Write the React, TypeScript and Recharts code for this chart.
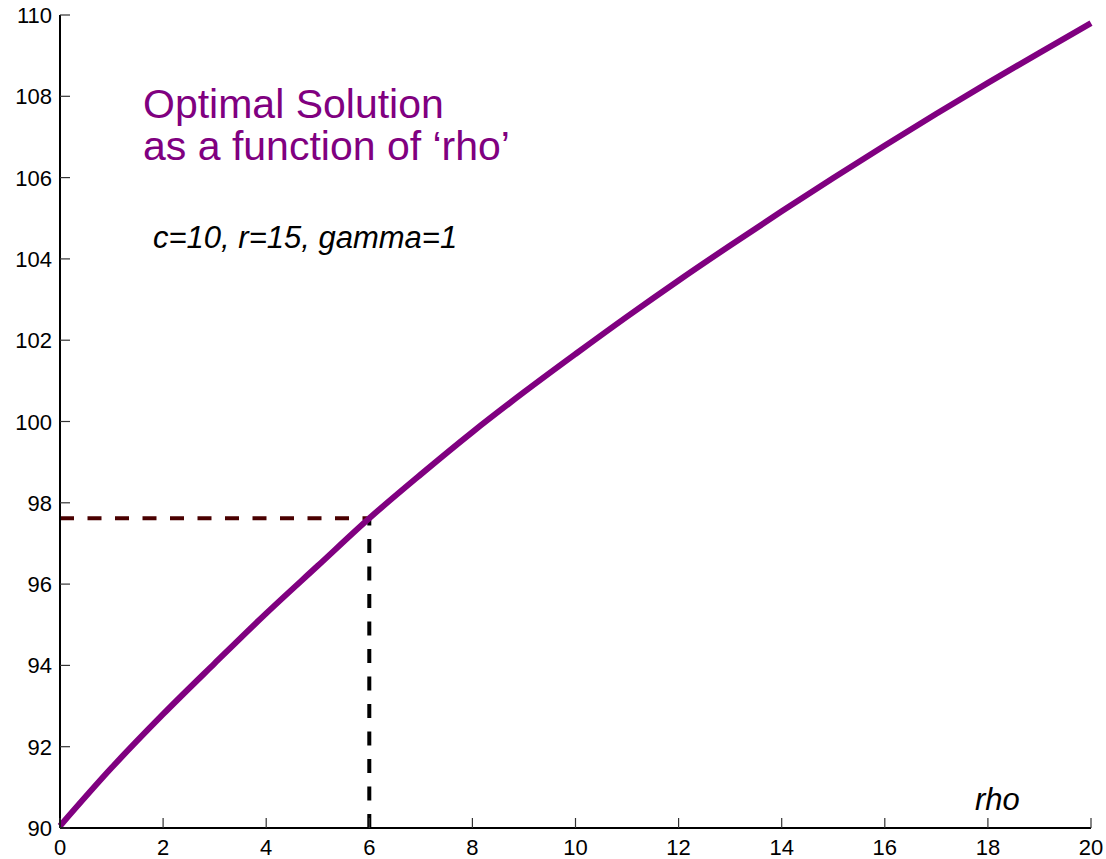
import { LineChart, Line, XAxis, YAxis, ReferenceLine } from "recharts"

// optimal solution sampled at integer rho (c=10, r=15, gamma=1)
const rhoValues = [0, 1, 2, 3, 4, 5, 6, 7, 8, 9, 10, 11, 12, 13, 14, 15, 16, 17, 18, 19, 20]
const optimalValues = [
  90.05, 91.48, 92.8, 94.05, 95.28, 96.45, 97.62, 98.7, 99.74, 100.72, 101.66,
  102.58, 103.47, 104.33, 105.17, 105.99, 106.79, 107.57, 108.33, 109.07, 109.8,
]
const xTicks = [0, 2, 4, 6, 8, 10, 12, 14, 16, 18, 20]
const yTicks = [90, 92, 94, 96, 98, 100, 102, 104, 106, 108, 110]
const markRho = 6
const markValue = 97.62

const data = rhoValues.map((rho, i) => ({ rho, value: optimalValues[i] }))

const FONT = '"Liberation Sans", Arial, Helvetica, sans-serif'
const TICK_LEN = 10
const TICK_COLOR = "#333"
const TICK_FONT = 22

function BottomTick({ x, y, payload }: any) {
  return (
    <g>
      <line x1={x} y1={y} x2={x} y2={y - TICK_LEN} stroke={TICK_COLOR} strokeWidth={1.2} />
      <text x={x} y={y + 27} textAnchor="middle" fontSize={TICK_FONT} fontFamily={FONT} fill="#000">
        {payload.value}
      </text>
    </g>
  )
}

function TopTick({ x, y }: any) {
  return <line x1={x} y1={y} x2={x} y2={y + TICK_LEN} stroke={TICK_COLOR} strokeWidth={1.2} />
}

function LeftTick({ x, y, payload }: any) {
  return (
    <g>
      <line x1={x} y1={y} x2={x + TICK_LEN} y2={y} stroke={TICK_COLOR} strokeWidth={1.2} />
      <text x={x - 8} y={y + 8} textAnchor="end" fontSize={TICK_FONT} fontFamily={FONT} fill="#000">
        {payload.value}
      </text>
    </g>
  )
}

function RightTick({ x, y }: any) {
  return <line x1={x} y1={y} x2={x - TICK_LEN} y2={y} stroke={TICK_COLOR} strokeWidth={1.2} />
}

export default function App() {
  return (
    <div style={{ position: "absolute", left: 0, top: 0, background: "#fff" }}>
      <LineChart width={1106} height={859} data={data} margin={{ top: 15, right: 15, bottom: 1, left: 0 }}>
        <XAxis
          dataKey="rho"
          type="number"
          domain={[0, 20]}
          ticks={xTicks}
          height={30}
          tickSize={0}
          tickMargin={0}
          tickLine={false}
          tick={<BottomTick />}
          axisLine={{ stroke: "#000", strokeWidth: 2 }}
          interval={0}
        />
        <XAxis
          xAxisId="top"
          orientation="top"
          dataKey="rho"
          type="number"
          domain={[0, 20]}
          ticks={xTicks}
          height={0}
          tickSize={0}
          tickMargin={0}
          tickLine={false}
          tick={<TopTick />}
          axisLine={{ stroke: "#000", strokeWidth: 2 }}
          interval={0}
        />
        <YAxis
          type="number"
          domain={[90, 110]}
          ticks={yTicks}
          width={60}
          tickSize={0}
          tickMargin={0}
          tickLine={false}
          tick={<LeftTick />}
          axisLine={{ stroke: "#000", strokeWidth: 2 }}
          interval={0}
        />
        <YAxis
          yAxisId="right"
          orientation="right"
          type="number"
          domain={[90, 110]}
          ticks={yTicks}
          width={0}
          tickSize={0}
          tickMargin={0}
          tickLine={false}
          tick={<RightTick />}
          axisLine={{ stroke: "#000", strokeWidth: 2 }}
          interval={0}
        />

        {/* dashed guides to the point at rho = 6 */}
        <ReferenceLine
          segment={[{ x: 0, y: markValue }, { x: markRho, y: markValue }]}
          stroke="#4a0000"
          strokeWidth={4}
          strokeDasharray="14 13.5"
        />
        <ReferenceLine
          segment={[{ x: markRho, y: 90 }, { x: markRho, y: markValue }]}
          stroke="#000"
          strokeWidth={4}
          strokeDasharray="14 13.5"
        />

        <Line
          type="monotone"
          dataKey="value"
          stroke="#800080"
          strokeWidth={6}
          dot={false}
          activeDot={false}
          isAnimationActive={false}
        />

        <text x={143} y={118} fontSize={41} fontFamily={FONT} fill="#800080">
          Optimal Solution
        </text>
        <text x={143} y={160} fontSize={41} fontFamily={FONT} fill="#800080">
          as a function of ‘rho’
        </text>
        <text x={153} y={248} fontSize={31} fontStyle="italic" fontFamily={FONT} fill="#000">
          c=10, r=15, gamma=1
        </text>
        <text x={975} y={810} fontSize={31} fontStyle="italic" fontFamily={FONT} fill="#000">
          rho
        </text>
      </LineChart>
    </div>
  )
}
